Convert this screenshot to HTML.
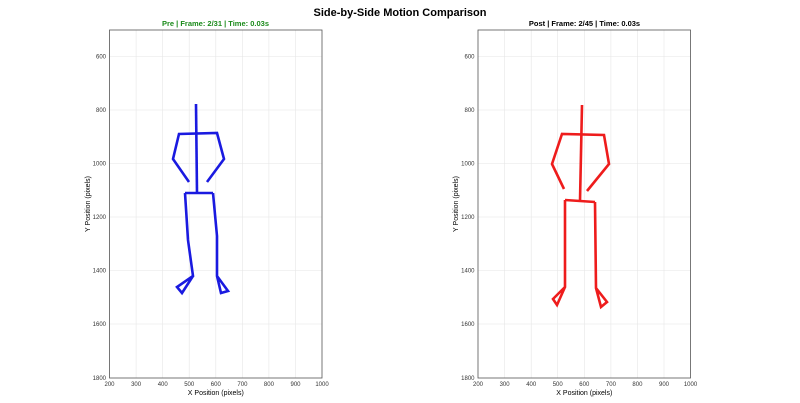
<!DOCTYPE html>
<html><head><style>body{margin:0;background:#fff}svg{display:block}</style></head><body>
<svg width="800" height="403" xmlns="http://www.w3.org/2000/svg" font-family="Liberation Sans, DejaVu Sans, sans-serif">
<text x="400" y="16" text-anchor="middle" font-size="11" font-weight="bold">Side-by-Side Motion Comparison</text>
<g id="grid">
</g>
<script>
</script>
<!-- Left axes -->
<g>
<text x="215.5" y="26" text-anchor="middle" font-size="7.5" font-weight="bold" fill="#1a8a1a">Pre | Frame: 2/31 | Time: 0.03s</text>
<g stroke="#e6e6e6" stroke-width="0.6">
<line x1="136.1" y1="30" x2="136.1" y2="378"/><line x1="162.7" y1="30" x2="162.7" y2="378"/><line x1="189.2" y1="30" x2="189.2" y2="378"/><line x1="215.8" y1="30" x2="215.8" y2="378"/><line x1="242.4" y1="30" x2="242.4" y2="378"/><line x1="268.9" y1="30" x2="268.9" y2="378"/><line x1="295.5" y1="30" x2="295.5" y2="378"/>
<line x1="109.5" y1="56.5" x2="322" y2="56.5"/><line x1="109.5" y1="110" x2="322" y2="110"/><line x1="109.5" y1="163.5" x2="322" y2="163.5"/><line x1="109.5" y1="217" x2="322" y2="217"/><line x1="109.5" y1="270.5" x2="322" y2="270.5"/><line x1="109.5" y1="324" x2="322" y2="324"/>
</g>
<rect x="109.5" y="30" width="212.5" height="348" fill="none" stroke="#555" stroke-width="0.8"/>
<g font-size="6" fill="#333" text-anchor="middle">
<text x="109.5" y="386">200</text><text x="136.1" y="386">300</text><text x="162.7" y="386">400</text><text x="189.2" y="386">500</text><text x="215.8" y="386">600</text><text x="242.4" y="386">700</text><text x="268.9" y="386">800</text><text x="295.5" y="386">900</text><text x="322" y="386">1000</text>
</g>
<g font-size="6" fill="#333" text-anchor="end">
<text x="106" y="58.5">600</text><text x="106" y="112">800</text><text x="106" y="165.5">1000</text><text x="106" y="219">1200</text><text x="106" y="272.5">1400</text><text x="106" y="326">1600</text><text x="106" y="380">1800</text>
</g>
<text x="215.8" y="395" text-anchor="middle" font-size="7">X Position (pixels)</text>
<text transform="translate(90,204) rotate(-90)" text-anchor="middle" font-size="7">Y Position (pixels)</text>
<g stroke="#1a1ae0" stroke-width="2.6" fill="none" stroke-linejoin="miter">
<polyline points="196,104 197,193"/>
<polyline points="189,182 173,159 179,134 217,133 224,159 207,182"/>
<polyline points="185,193 213,193"/>
<polyline points="185,193 188,240 193,276 177,287 182,293 193,276"/>
<polyline points="213,193 217,236 217,276 228,291 221,293 217,276"/>
</g>
</g>
<!-- Right axes -->
<g>
<text x="584.5" y="26" text-anchor="middle" font-size="7.5" font-weight="bold">Post | Frame: 2/45 | Time: 0.03s</text>
<g stroke="#e6e6e6" stroke-width="0.6">
<line x1="504.6" y1="30" x2="504.6" y2="378"/><line x1="531.2" y1="30" x2="531.2" y2="378"/><line x1="557.7" y1="30" x2="557.7" y2="378"/><line x1="584.3" y1="30" x2="584.3" y2="378"/><line x1="610.9" y1="30" x2="610.9" y2="378"/><line x1="637.4" y1="30" x2="637.4" y2="378"/><line x1="664" y1="30" x2="664" y2="378"/>
<line x1="478" y1="56.5" x2="690.5" y2="56.5"/><line x1="478" y1="110" x2="690.5" y2="110"/><line x1="478" y1="163.5" x2="690.5" y2="163.5"/><line x1="478" y1="217" x2="690.5" y2="217"/><line x1="478" y1="270.5" x2="690.5" y2="270.5"/><line x1="478" y1="324" x2="690.5" y2="324"/>
</g>
<rect x="478" y="30" width="212.5" height="348" fill="none" stroke="#555" stroke-width="0.8"/>
<g font-size="6" fill="#333" text-anchor="middle">
<text x="478" y="386">200</text><text x="504.6" y="386">300</text><text x="531.2" y="386">400</text><text x="557.7" y="386">500</text><text x="584.3" y="386">600</text><text x="610.9" y="386">700</text><text x="637.4" y="386">800</text><text x="664" y="386">900</text><text x="690.5" y="386">1000</text>
</g>
<g font-size="6" fill="#333" text-anchor="end">
<text x="474.5" y="58.5">600</text><text x="474.5" y="112">800</text><text x="474.5" y="165.5">1000</text><text x="474.5" y="219">1200</text><text x="474.5" y="272.5">1400</text><text x="474.5" y="326">1600</text><text x="474.5" y="380">1800</text>
</g>
<text x="584.3" y="395" text-anchor="middle" font-size="7">X Position (pixels)</text>
<text transform="translate(458,204) rotate(-90)" text-anchor="middle" font-size="7">Y Position (pixels)</text>
<g stroke="#ee1c1c" stroke-width="2.6" fill="none">
<polyline points="582,105 580,201"/>
<polyline points="564,189 552,164 562,134 604,135 609,164 587,191"/>
<polyline points="565,200 595,202"/>
<polyline points="565,200 565,287 553,299 557,305 565,287"/>
<polyline points="595,202 596,288 607,302 601,307 596,288"/>
</g>
</g>
</svg>
</body></html>
